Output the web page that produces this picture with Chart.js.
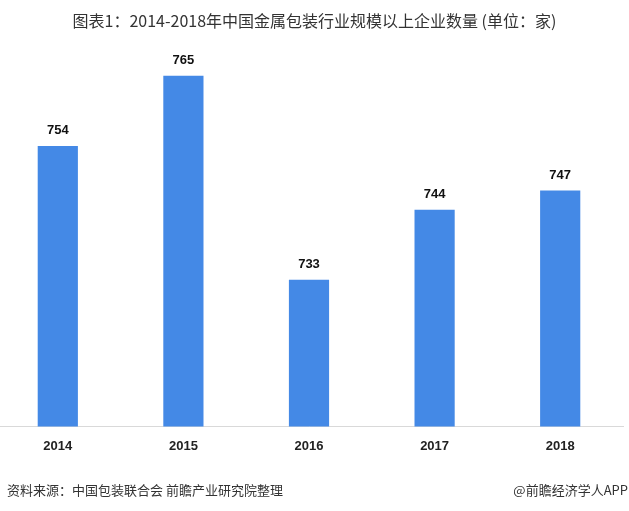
<!DOCTYPE html>
<html>
<head>
<meta charset="utf-8">
<script src="https://cdn.jsdelivr.net/npm/chart.js@4"></script>
<style>
    body { margin: 0; background: #fff; }
    #wrap { position: relative; width: 629px; height: 511px; overflow: hidden; }
    #title { position: absolute; top: 9px; left: 0; width: 629px; text-align: center;
        font: 16px "Noto Sans CJK SC", sans-serif; color: #333; line-height: 22px; }
    #source { position: absolute; top: 480px; left: 7px;
        font: 13px "Noto Sans CJK SC", sans-serif; color: #333; line-height: 20px; }
    #brand { position: absolute; top: 480px; right: 1px;
        font: 13px "Noto Sans CJK SC", sans-serif; color: #333; line-height: 20px; }
    #box { position: absolute; top: 0; left: -5px; width: 634px; height: 511px; }
</style>
</head>
<body>
<div id="wrap">
    <div id="box"><canvas id="companyChart"></canvas></div>
    <div id="title">图表1：2014-2018年中国金属包装行业规模以上企业数量 (单位：家)</div>
    <div id="source">资料来源：中国包装联合会 前瞻产业研究院整理</div>
    <div id="brand">@前瞻经济学人APP</div>
</div>
<script>
const years = ["2014", "2015", "2016", "2017", "2018"];
const companyCount = [754, 765, 733, 744, 747];

// value labels above each bar
const valueLabels = {
    id: 'valueLabels',
    afterDatasetsDraw(chart) {
        let ctx = chart.ctx;
        let meta = chart.getDatasetMeta(0);
        ctx.save();
        ctx.font = 'bold 13px "Liberation Sans", Arial, sans-serif';
        ctx.fillStyle = '#111';
        ctx.textAlign = 'center';
        ctx.textBaseline = 'middle';
        meta.data.forEach(function(bar, i) {
            ctx.fillText(companyCount[i], bar.x, bar.y - 15);
        });
        ctx.restore();
    }
};

function manageCompanyChart() {
    let ctx = document.getElementById("companyChart").getContext('2d');
    let myBarChart = new Chart(ctx, {
        type: 'bar',
        data: {
            labels: years,
            datasets: [{
                data: companyCount,
                backgroundColor: "#4489e6",
                barPercentage: 0.64,
                categoryPercentage: 0.5
            }]
        },
        options: {
            responsive: true,
            maintainAspectRatio: false,
            animation: false,
            layout: { padding: { top: 12, right: 6, bottom: 53, left: 0 } },
            plugins: { legend: { display: false }, tooltip: { enabled: false } },
            scales: {
                x: {
                    grid: { display: false },
                    border: { display: true, color: "#d9d9d9", width: 1 },
                    ticks: {
                        color: "#222",
                        padding: 4,
                        font: { family: '"Liberation Sans", Arial, sans-serif', size: 13, weight: 'bold' }
                    }
                },
                y: {
                    display: false,
                    min: 710,
                    max: 775
                }
            }
        },
        plugins: [valueLabels]
    });
}

manageCompanyChart();
</script>
</body>
</html>
